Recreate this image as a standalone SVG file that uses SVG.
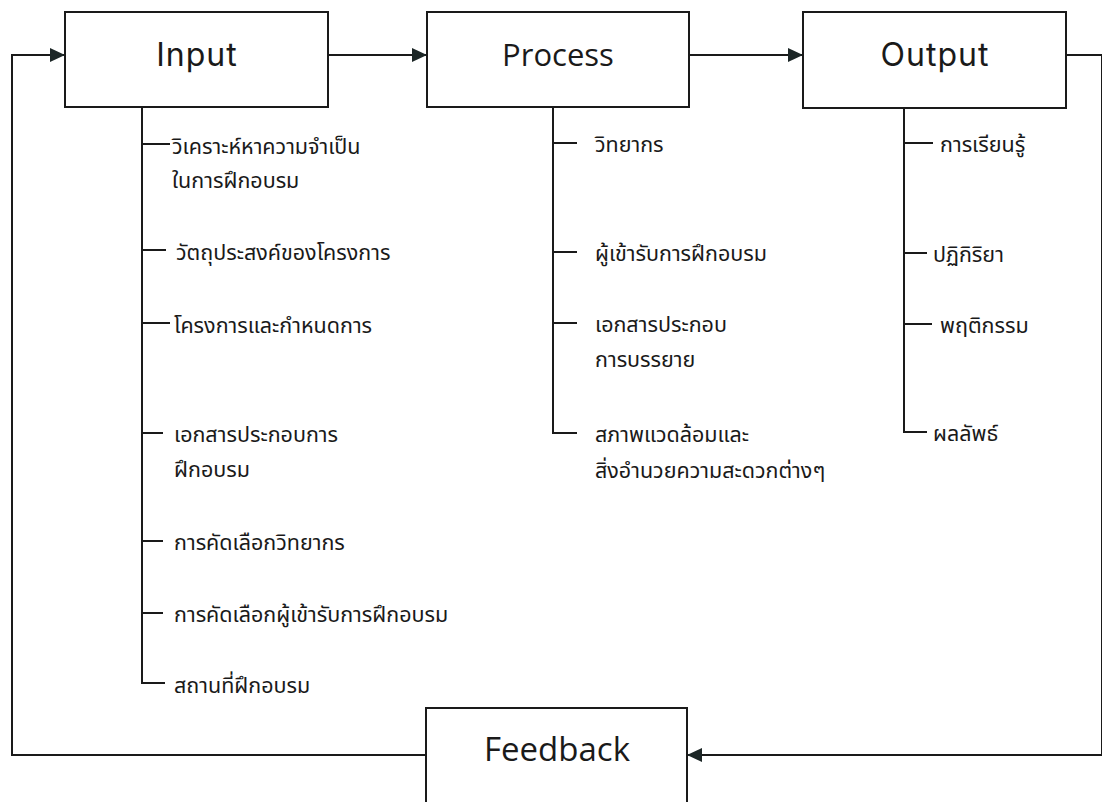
<svg xmlns="http://www.w3.org/2000/svg" width="1102" height="802" viewBox="0 0 1102 802">
<defs>
<marker id="arr" markerWidth="16" markerHeight="14" refX="15" refY="7" orient="auto" markerUnits="userSpaceOnUse">
<path d="M0,0 L15,7 L0,14 Z" fill="#1c2626"/>
</marker>
<style>
.box{fill:#fff;stroke:#1a1a1a;stroke-width:2}
.ln{fill:none;stroke:#1a1a1a;stroke-width:2}
.tk{fill:none;stroke:#1a1a1a;stroke-width:2}
.th{font-family:"Noto Sans Thai","Noto Sans",sans-serif;font-size:21.5px;fill:#1a1a1a}
.hd{font-family:"Open Sans","Noto Sans",sans-serif;font-size:31px;fill:#1a1a1a;text-anchor:middle}
.fb{font-family:"Open Sans","Noto Sans",sans-serif;font-size:33px;fill:#1a1a1a;text-anchor:middle}
.hg{font-family:"Inter","Noto Sans",sans-serif;font-size:32px;letter-spacing:1px;fill:#1a1a1a;text-anchor:middle}
</style>
</defs>
<rect width="1102" height="802" fill="#fff"/>
<g id="connectors">
<path class="ln" d="M328,55 L427,55" marker-end="url(#arr)"/>
<path class="ln" d="M689,55 L803,55" marker-end="url(#arr)"/>
<path class="ln" d="M1066,55 L1102,55 L1102,755 L687,755" marker-end="url(#arr)"/>
<path class="ln" d="M426,755 L12,755 L12,55 L65,55" marker-end="url(#arr)"/>
</g>
<g id="input">
<rect class="box" x="65" y="12" width="263" height="95"/>
<text class="hg" x="197" y="66">Input</text>
<path class="tk" d="M142,107 L142,683 L165,683 M142,144 L170,144 M142,250 L166,250 M142,323 L170,323 M142,433 L163,433 M142,541 L163,541 M142,613 L163,613"/>
<text class="th" x="172" y="154">วิเคราะห์หาความจำเป็น</text>
<text class="th" x="172" y="188">ในการฝึกอบรม</text>
<text class="th" x="176" y="260">วัตถุประสงค์ของโครงการ</text>
<text class="th" x="174" y="333">โครงการและกำหนดการ</text>
<text class="th" x="174" y="442">เอกสารประกอบการ</text>
<text class="th" x="174" y="477">ฝึกอบรม</text>
<text class="th" x="174" y="550">การคัดเลือกวิทยากร</text>
<text class="th" x="174" y="622">การคัดเลือกผู้เข้ารับการฝึกอบรม</text>
<text class="th" x="174" y="693">สถานที่ฝึกอบรม</text>
</g>
<g id="process">
<rect class="box" x="427" y="12" width="262" height="95"/>
<text class="hd" x="558" y="66">Process</text>
<path class="tk" d="M553,107 L553,433 L577,433 M553,143 L577,143 M553,252 L577,252 M553,323 L577,323"/>
<text class="th" x="595" y="152">วิทยากร</text>
<text class="th" x="595" y="261">ผู้เข้ารับการฝึกอบรม</text>
<text class="th" x="595" y="332">เอกสารประกอบ</text>
<text class="th" x="595" y="367">การบรรยาย</text>
<text class="th" x="595" y="442">สภาพแวดล้อมและ</text>
<text class="th" x="595" y="478">สิ่งอำนวยความสะดวกต่างๆ</text>
</g>
<g id="output">
<rect class="box" x="803" y="12" width="263" height="96"/>
<text class="hg" x="935" y="66">Output</text>
<path class="tk" d="M904,108 L904,432 L927,432 M904,143 L933,143 M904,253 L927,253 M904,324 L932,324"/>
<text class="th" x="940" y="152">การเรียนรู้</text>
<text class="th" x="933" y="262">ปฏิกิริยา</text>
<text class="th" x="940" y="333">พฤติกรรม</text>
<text class="th" x="933" y="441">ผลลัพธ์</text>
</g>
<g id="feedback">
<rect class="box" x="426" y="708" width="261" height="100"/>
<text class="fb" x="557" y="761">Feedback</text>
</g>
</svg>
